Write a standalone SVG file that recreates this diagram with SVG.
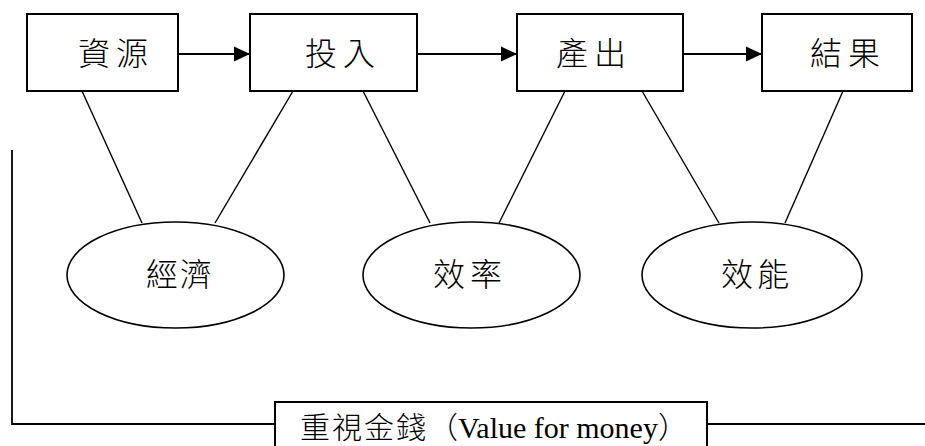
<svg xmlns="http://www.w3.org/2000/svg" width="925" height="446" viewBox="0 0 925 446">
<defs>
<marker id="ah" markerUnits="userSpaceOnUse" markerWidth="16" markerHeight="16" refX="16" refY="8" orient="auto">
<path d="M0,0.5 L16,8 L0,15.5 Z" fill="#000"/>
</marker>
<style>
.box{fill:#fff;stroke:#000;stroke-width:2}
.ell{fill:#fff;stroke:#000;stroke-width:1.6}
.ln{stroke:#000;stroke-width:1.4;fill:none}
.arr{stroke:#000;stroke-width:2;fill:none}
.br{stroke:#000;stroke-width:1.8;fill:none}
.t{font-family:"Liberation Serif","Noto Sans CJK TC",serif;font-size:32px;font-weight:300;fill:#000}
.tb{letter-spacing:6px}
.bt{font-size:30px}
</style>
</defs>
<rect width="925" height="446" fill="#fff"/>
<g id="connectors">
<line class="arr" x1="178" y1="54" x2="250" y2="54" marker-end="url(#ah)"/>
<line class="arr" x1="417" y1="54" x2="517" y2="54" marker-end="url(#ah)"/>
<line class="arr" x1="683" y1="54" x2="762" y2="54" marker-end="url(#ah)"/>
<line class="ln" x1="82" y1="91" x2="142" y2="223"/>
<line class="ln" x1="293" y1="91" x2="215" y2="223"/>
<line class="ln" x1="363" y1="91" x2="430" y2="223"/>
<line class="ln" x1="565" y1="91" x2="499" y2="223"/>
<line class="ln" x1="642" y1="91" x2="719" y2="223"/>
<line class="ln" x1="843" y1="91" x2="785" y2="223"/>
<polyline class="br" points="12,150 12,424 275,424"/>
<line class="br" x1="707" y1="424" x2="925" y2="424"/>
</g>
<g id="resources">
<rect class="box" x="27" y="14" width="151" height="77"/>
<text class="t tb" x="78" y="65">資源</text>
</g>
<g id="inputs">
<rect class="box" x="250" y="14" width="167" height="77"/>
<text class="t tb" x="305" y="65">投入</text>
</g>
<g id="outputs">
<rect class="box" x="517" y="14" width="166" height="77"/>
<text class="t tb" x="556" y="65">產出</text>
</g>
<g id="outcomes">
<rect class="box" x="762" y="14" width="150" height="77"/>
<text class="t tb" x="810" y="65">結果</text>
</g>
<g id="economy">
<ellipse class="ell" cx="175.5" cy="275" rx="108.5" ry="53"/>
<text class="t" x="146" y="286" style="letter-spacing:2px">經濟</text>
</g>
<g id="efficiency">
<ellipse class="ell" cx="471.5" cy="275" rx="108.5" ry="53"/>
<text class="t" x="433" y="286" style="letter-spacing:5px">效率</text>
</g>
<g id="effectiveness">
<ellipse class="ell" cx="752" cy="275" rx="110" ry="53"/>
<text class="t" x="721" y="286" style="letter-spacing:4px">效能</text>
</g>
<g id="value-for-money">
<rect class="box" x="275" y="402" width="432" height="60"/>
<text class="t bt" x="300" y="438"><tspan style="letter-spacing:2px">重視金錢</tspan>（Value for money）</text>
</g>
</svg>
